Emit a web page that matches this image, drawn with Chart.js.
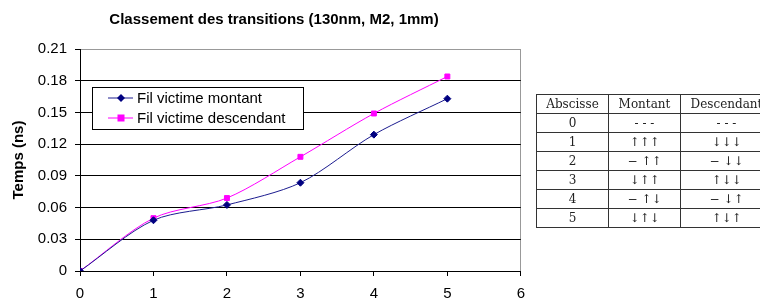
<!DOCTYPE html>
<html>
<head>
<meta charset="utf-8">
<script src="https://cdn.jsdelivr.net/npm/chart.js@4.4.0/dist/chart.umd.min.js"></script>
<style>
    body { margin: 0; background: #fff; width: 760px; height: 300px; overflow: hidden; position: relative; }
    #wrap { position: absolute; left: 0; top: 0; width: 534px; height: 300px; }
    #transitions {
        position: absolute; left: 536px; top: 94px; width: 236px;
        border-collapse: collapse;
        font-family: "DejaVu Serif", serif; font-size: 12px; color: #222;
        table-layout: fixed;
        will-change: transform;
    }
    #transitions td, #transitions th {
        border: 1.5px solid #333; height: 18px; padding: 0 2px;
        text-align: center; font-weight: normal; white-space: nowrap; overflow: hidden;
    }
</style>
</head>
<body>
<div id="wrap"><canvas id="chart"></canvas></div>
<table id="transitions"></table>
<script>
// --- Data ---
const abscisses = [0, 1, 2, 3, 4, 5];
const montant = [0, 0.048, 0.0625, 0.0835, 0.129, 0.163];
const descendant = [0, 0.050, 0.069, 0.108, 0.149, 0.184];
const yTicks = [0, 0.03, 0.06, 0.09, 0.12, 0.15, 0.18, 0.21];
const xTicks = [0, 1, 2, 3, 4, 5, 6];

const tableHeader = ['Abscisse', 'Montant', 'Descendant'];
const tableMontant = ['- - -', '↑↑↑', '− ↑↑', '↓↑↑', '− ↑↓', '↓↑↓'];
const tableDescendant = ['- - -', '↓↓↓', '− ↓↓', '↑↓↓', '− ↓↑', '↑↓↑'];

// --- Table ---
const table = document.getElementById('transitions');
const widths = [72, 72, 92];
let cols = '<colgroup>' + widths.map(w => `<col style="width:${w}px">`).join('') + '</colgroup>';
let head = '<tr>' + tableHeader.map(h => `<th>${h}</th>`).join('') + '</tr>';
let rows = abscisses.map((a, i) => `<tr><td>${a}</td><td>${tableMontant[i]}</td><td>${tableDescendant[i]}</td></tr>`).join('');
table.innerHTML = cols + head + rows;

// --- Chart ---
const NAVY = '#000080';
const MAGENTA = '#ff00ff';
const FONT = '"Liberation Sans", Arial, sans-serif';

const insideLegend = {
    id: 'insideLegend',
    afterDraw(chart) {
        const ctx = chart.ctx;
        const area = chart.chartArea;
        const x = area.left + 12, y = area.top + 38, w = 211, h = 42;
        ctx.save();
        ctx.fillStyle = '#fff';
        ctx.fillRect(x, y, w, h);
        ctx.strokeStyle = '#000';
        ctx.lineWidth = 1;
        ctx.strokeRect(x + 0.5, y + 0.5, w, h);
        ctx.font = '15px ' + FONT;
        ctx.textBaseline = 'middle';
        chart.data.datasets.forEach((ds, i) => {
            const cy = y + 11 + i * 20;
            ctx.strokeStyle = ds.borderColor;
            ctx.beginPath();
            ctx.moveTo(x + 16, cy);
            ctx.lineTo(x + 41, cy);
            ctx.stroke();
            ctx.fillStyle = ds.pointBackgroundColor;
            const mx = x + 29;
            if (ds.pointStyle === 'rectRot') {
                ctx.beginPath();
                ctx.moveTo(mx, cy - 4);
                ctx.lineTo(mx + 4, cy);
                ctx.lineTo(mx, cy + 4);
                ctx.lineTo(mx - 4, cy);
                ctx.closePath();
                ctx.fill();
            } else {
                ctx.fillRect(mx - 3.5, cy - 3.5, 7, 7);
            }
            ctx.fillStyle = '#000';
            ctx.fillText(ds.label, x + 45, cy + 1);
        });
        ctx.restore();
    }
};

new Chart(document.getElementById('chart'), {
    type: 'line',
    data: {
        datasets: [
            {
                label: 'Fil victime montant',
                data: abscisses.map((a, i) => ({ x: a, y: montant[i] })),
                borderColor: '#1c1c8f',
                pointBackgroundColor: NAVY,
                pointBorderColor: NAVY,
                pointStyle: 'rectRot',
                pointRadius: 3.5,
                borderWidth: 1,
                tension: 0.3
            },
            {
                label: 'Fil victime descendant',
                data: abscisses.map((a, i) => ({ x: a, y: descendant[i] })),
                borderColor: MAGENTA,
                pointBackgroundColor: MAGENTA,
                pointBorderColor: MAGENTA,
                pointStyle: 'rect',
                pointRadius: 3.5,
                borderWidth: 1,
                tension: 0.3
            }
        ]
    },
    options: {
        responsive: true,
        maintainAspectRatio: false,
        animation: false,
        // left padding recentres the title; the y axis fills the rest up to x = 80
        layout: { padding: { left: 24, right: 10, top: 0, bottom: 0 } },
        plugins: {
            legend: { display: false },
            tooltip: { enabled: false },
            title: {
                display: true,
                text: 'Classement des transitions (130nm, M2, 1mm)',
                color: '#000',
                font: { family: FONT, size: 15, weight: 'bold' },
                padding: { top: 11, bottom: 20 }
            }
        },
        scales: {
            x: {
                type: 'linear',
                min: 0,
                max: 6,
                afterBuildTicks: axis => { axis.ticks = xTicks.map(v => ({ value: v })); },
                afterFit: axis => { axis.height = 29; },
                border: { color: '#000', width: 1 },
                grid: {
                    drawOnChartArea: true,
                    color: c => (c.tick && c.tick.value === 6) ? '#999' : 'transparent',
                    tickColor: '#000',
                    tickLength: 5
                },
                ticks: {
                    color: '#000',
                    padding: 9,
                    maxRotation: 0,
                    font: { family: FONT, size: 15 }
                }
            },
            y: {
                min: 0,
                max: 0.21,
                afterBuildTicks: axis => { axis.ticks = yTicks.map(v => ({ value: v })); },
                afterFit: axis => { axis.width = 56; },
                border: { color: '#000', width: 1 },
                grid: {
                    color: c => (c.tick && c.tick.value === 0.21) ? '#999' : '#000',
                    tickColor: '#000',
                    tickLength: 5
                },
                ticks: {
                    color: '#000',
                    padding: 8,
                    callback: v => String(parseFloat(v.toFixed(2))),
                    font: { family: FONT, size: 15 }
                },
                title: {
                    display: true,
                    text: 'Temps (ns)',
                    color: '#000',
                    padding: { top: -14, bottom: 0 },
                    font: { family: FONT, size: 15, weight: 'bold' }
                }
            }
        }
    },
    plugins: [insideLegend]
});
</script>
</body>
</html>
